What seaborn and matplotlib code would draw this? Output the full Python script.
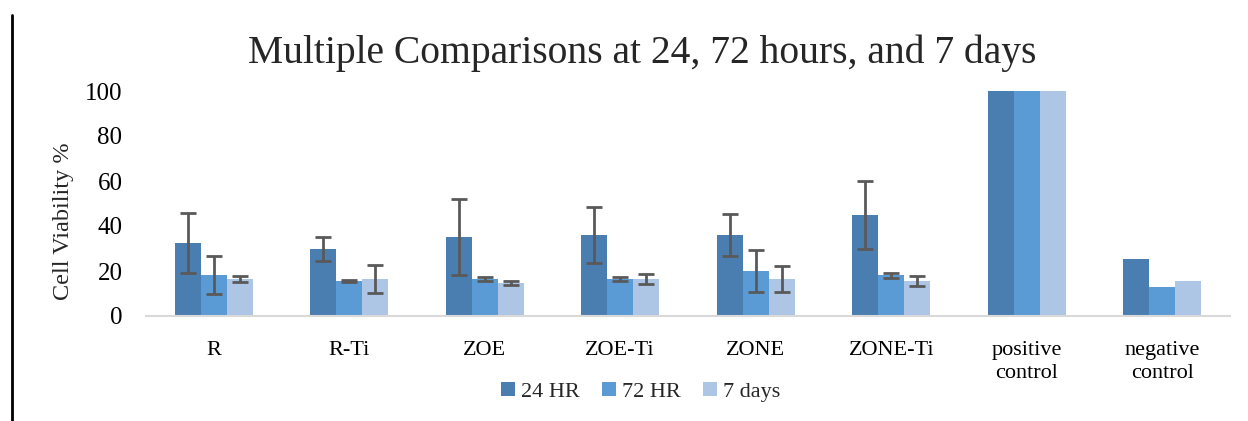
import numpy as np
import pandas as pd
import matplotlib
matplotlib.use("Agg")
import matplotlib.pyplot as plt
from matplotlib.lines import Line2D
import seaborn as sns

categories = ["R", "R-Ti", "ZOE", "ZOE-Ti", "ZONE", "ZONE-Ti", "positive\ncontrol", "negative\ncontrol"]
series = ["24 HR", "72 HR", "7 days"]
v24 = [32.4, 29.7, 35.0, 35.9, 35.9, 44.8, 100, 25.2]
v72 = [18.1, 15.4, 16.3, 16.3, 19.9, 18.1, 100, 12.8]
v7d = [16.3, 16.3, 14.5, 16.3, 16.3, 15.4, 100, 15.4]
e24 = [13.4, 5.3, 16.9, 12.5, 9.4, 15.1, np.nan, np.nan]
e72 = [8.5, 0.5, 0.9, 0.9, 9.3, 1.0, np.nan, np.nan]
e7d = [1.4, 6.2, 0.9, 2.2, 5.8, 2.2, np.nan, np.nan]
yticks = [0, 20, 40, 60, 80, 100]
colors = ["#4a7eb0", "#5b9bd5", "#adc6e5"]

sns.set_style("white")
plt.rcParams['font.family'] = ['Liberation Serif', 'DejaVu Serif']

df = pd.DataFrame({
    "cat": categories * 3,
    "series": sum([[s] * len(categories) for s in series], []),
    "val": v24 + v72 + v7d,
})

fig = plt.figure(figsize=(12.48, 4.21), dpi=100)
ax = fig.add_axes([146 / 1248, 1 - 316 / 421, (1230 - 146) / 1248, (316 - 91) / 421])
sns.barplot(data=df, x="cat", y="val", hue="series", hue_order=series, order=categories,
            palette=colors, width=0.576, gap=0, errorbar=None, ax=ax, legend=True,
            saturation=1, linewidth=0)

for cont, errs in zip(ax.containers, [e24, e72, e7d]):
    xs = [p.get_x() + p.get_width() / 2 for p in cont]
    hs = [p.get_height() for p in cont]
    ax.errorbar(xs, hs, yerr=errs, fmt="none", ecolor="#595959", elinewidth=2,
                capsize=6, capthick=2, zorder=5)

ax.set_ylim(0, 100)
ax.set_yticks(yticks)
ax.set_xlim(-0.5, len(categories) - 0.5)
for s in ["top", "right", "left"]:
    ax.spines[s].set_visible(False)
ax.spines["bottom"].set_color("#d9d9d9")
ax.spines["bottom"].set_linewidth(1.5)
ax.tick_params(axis="both", length=0, colors="#000000")
ax.tick_params(axis="x", pad=18, labelsize=16)
ax.tick_params(axis="y", pad=17, labelsize=18)
for lab in ax.get_xticklabels():
    lab.set_linespacing(1.3)
ax.set_xlabel("")
ax.set_ylabel("Cell Viability %", fontsize=17.5)
ax.yaxis.set_label_coords((74 - 146) / (1230 - 146), (316 - 221) / (316 - 91))
ax.set_title("Multiple Comparisons at 24, 72 hours, and 7 days", fontsize=28.5, pad=20,
             x=(642 - 146) / (1230 - 146))

leg = ax.legend(loc="center", bbox_to_anchor=(641 / 1248, 1 - 392 / 421), bbox_transform=fig.transFigure,
                ncol=3, frameon=False, fontsize=16, handlelength=0.6, handleheight=0.6,
                handletextpad=0.3, columnspacing=1.0)

fig.add_artist(Line2D([12 / 1248, 12 / 1248], [0, 1 - 15 / 421], transform=fig.transFigure,
                      color="black", linewidth=2))

fig.savefig("out.png", dpi=100)
